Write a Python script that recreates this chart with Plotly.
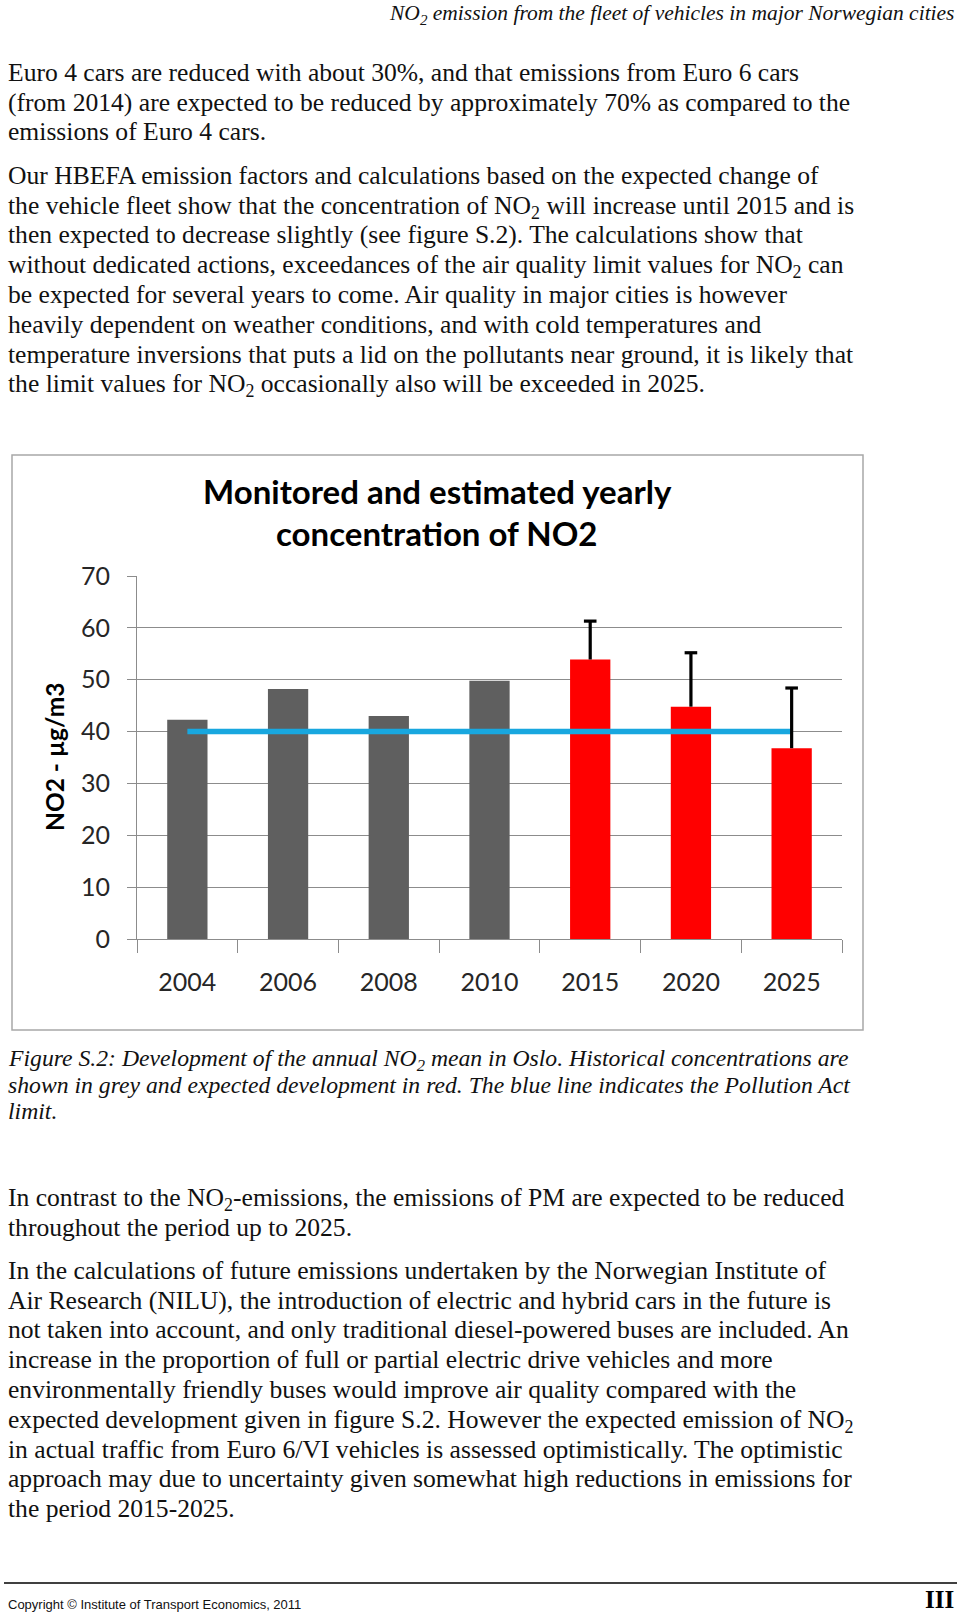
import plotly.graph_objects as go

W, H = 960, 1614

# ---- chart data ----
years = ["2004", "2006", "2008", "2010", "2015", "2020", "2025"]
hist_years = ["2004", "2006", "2008", "2010"]
hist_values = [42.3, 48.2, 43.0, 49.8]
proj_years = ["2015", "2020", "2025"]
proj_values = [53.9, 44.8, 36.8]
proj_err_plus = [7.4, 10.4, 11.6]
limit_value = 40
y_ticks = [0, 10, 20, 30, 40, 50, 60, 70]

chart_title = ["Monitored and estimated yearly", "concentration of NO2"]
y_title = "NO2 - µg/m3"

# ---- page text ----
header = "NO<sub>2</sub> emission from the fleet of vehicles in major Norwegian cities"
para1 = [
    "Euro 4 cars are reduced with about 30%, and that emissions from Euro 6 cars",
    "(from 2014) are expected to be reduced by approximately 70% as compared to the",
    "emissions of Euro 4 cars.",
]
para2 = [
    "Our HBEFA emission factors and calculations based on the expected change of",
    "the vehicle fleet show that the concentration of NO<sub>2</sub> will increase until 2015 and is",
    "then expected to decrease slightly (see figure S.2). The calculations show that",
    "without dedicated actions, exceedances of the air quality limit values for NO<sub>2</sub> can",
    "be expected for several years to come. Air quality in major cities is however",
    "heavily dependent on weather conditions, and with cold temperatures and",
    "temperature inversions that puts a lid on the pollutants near ground, it is likely that",
    "the limit values for NO<sub>2</sub> occasionally also will be exceeded in 2025.",
]
caption = [
    "Figure S.2: Development of the annual NO<sub>2</sub> mean in Oslo. Historical concentrations are",
    "shown in grey and expected development in red. The blue line indicates the Pollution Act",
    "limit.",
]
para3 = [
    "In contrast to the NO<sub>2</sub>-emissions, the emissions of PM are expected to be reduced",
    "throughout the period up to 2025.",
]
para4 = [
    "In the calculations of future emissions undertaken by the Norwegian Institute of",
    "Air Research (NILU), the introduction of electric and hybrid cars in the future is",
    "not taken into account, and only traditional diesel-powered buses are included. An",
    "increase in the proportion of full or partial electric drive vehicles and more",
    "environmentally friendly buses would improve air quality compared with the",
    "expected development given in figure S.2. However the expected emission of NO<sub>2</sub>",
    "in actual traffic from Euro 6/VI vehicles is assessed optimistically. The optimistic",
    "approach may due to uncertainty given somewhat high reductions in emissions for",
    "the period 2015-2025.",
]
footer = "Copyright © Institute of Transport Economics, 2011"
page_no = "III"


def py(px):
    return 1 - px / H


def px_x(px):
    return px / W


fig = go.Figure()

fig.add_trace(go.Bar(x=hist_years, y=hist_values, marker_color="#5f5f5f",
                     marker_line_width=0, showlegend=False))
fig.add_trace(go.Bar(x=proj_years, y=proj_values, marker_color="#ff0000",
                     marker_line_width=0, showlegend=False))

# limit line
fig.add_trace(go.Scatter(x=[years[0], years[-1]], y=[limit_value, limit_value],
                         mode="lines", line=dict(color="#18a7df", width=5.5),
                         showlegend=False))

# error bars (plus direction only)
ex, ey = [], []
for yr, v, e in zip(proj_years, proj_values, proj_err_plus):
    ex += [yr, yr, None]
    ey += [v, v + e, None]
fig.add_trace(go.Scatter(x=ex, y=ey, mode="lines", line=dict(color="black", width=3.2),
                         showlegend=False))
fig.add_trace(go.Scatter(x=proj_years, y=[v + e for v, e in zip(proj_values, proj_err_plus)],
                         mode="markers",
                         marker=dict(symbol="line-ew", size=9, line=dict(color="black", width=3.2)),
                         showlegend=False))

plot_left, plot_right, plot_top, plot_bottom = 137, 842, 576, 939

fig.update_layout(
    width=W, height=H,
    margin=dict(l=0, r=0, t=0, b=0, autoexpand=False),
    paper_bgcolor="white", plot_bgcolor="white",
    barmode="overlay", bargap=0.6,
    xaxis=dict(domain=[px_x(plot_left), px_x(plot_right)],
               type="category", categoryorder="array", categoryarray=years,
               showline=True, linecolor="#8c8c8c", linewidth=1,
               ticks="outside", tickson="boundaries", ticklen=13, tickcolor="#8c8c8c",
               tickfont=dict(family="Lato", size=25, color="#262626"),
               ticklabelstandoff=21, showgrid=False, fixedrange=True),
    yaxis=dict(domain=[py(plot_bottom), py(plot_top)], range=[0, 70],
               tickvals=y_ticks, showline=True, linecolor="#8c8c8c", linewidth=1,
               ticks="outside", ticklen=9, tickcolor="#8c8c8c",
               showgrid=True, gridcolor="#8c8c8c", gridwidth=1,
               tickfont=dict(family="Lato", size=25, color="#262626"),
               ticklabelstandoff=12, zeroline=False, fixedrange=True),
)

ann = []
# chart title
for i, t in enumerate(chart_title):
    ann.append(dict(text=t, x=px_x(437), y=py(491 + i * 42), xref="paper", yref="paper",
                    xanchor="center", yanchor="middle", showarrow=False,
                    font=dict(family="Lato", size=33, color="black", weight="bold")))
ann.append(dict(text=y_title, x=px_x(54), y=py(757), xref="paper", yref="paper",
                xanchor="center", yanchor="middle", showarrow=False, textangle=-90,
                font=dict(family="Lato", size=24.5, color="black", weight="bold")))

serif = "Liberation Serif"
body_size = 25.6


def add_lines(lines, y0, size=body_size, italic=False, x=6, step=29.8, color="#111111"):
    k = 0.554 * size + 2
    for i, t in enumerate(lines):
        ann.append(dict(text=t, x=px_x(x), y=py(y0 + i * step - k), xref="paper", yref="paper",
                        xanchor="left", yanchor="top", showarrow=False,
                        font=dict(family=serif, size=size, color=color,
                                  style="italic" if italic else "normal")))


hs = 21.5
ann.append(dict(text=header, x=px_x(956), y=py(13 - (0.554 * hs + 2)), xref="paper", yref="paper",
                xanchor="right", yanchor="top", showarrow=False,
                font=dict(family=serif, size=hs, color="#111111", style="italic")))
add_lines(para1, 72)
add_lines(para2, 175)
add_lines(caption, 1058, size=23.7, italic=True, step=26.8)
add_lines(para3, 1197)
add_lines(para4, 1270)
ann.append(dict(text=footer, x=px_x(6), y=py(1604), xref="paper", yref="paper",
                xanchor="left", yanchor="middle", showarrow=False,
                font=dict(family="Liberation Sans", size=13, color="#111111")))
ann.append(dict(text=page_no, x=px_x(955), y=py(1614), xref="paper", yref="paper",
                xanchor="right", yanchor="bottom", showarrow=False, borderpad=0,
                font=dict(family=serif, size=25, color="black", weight="bold")))

fig.update_layout(annotations=ann)

fig.add_shape(type="rect", xref="paper", yref="paper",
              x0=px_x(12), x1=px_x(863), y0=py(1030), y1=py(455),
              line=dict(color="#a8a8a8", width=1.5), fillcolor="rgba(0,0,0,0)", layer="below")
fig.add_shape(type="line", xref="paper", yref="paper",
              x0=px_x(4), x1=px_x(957), y0=py(1583), y1=py(1583),
              line=dict(color="black", width=1.5))

fig.write_html("out.html", config={"displayModeBar": False},
               post_script="document.body.style.margin='0';document.body.style.padding='0';")
